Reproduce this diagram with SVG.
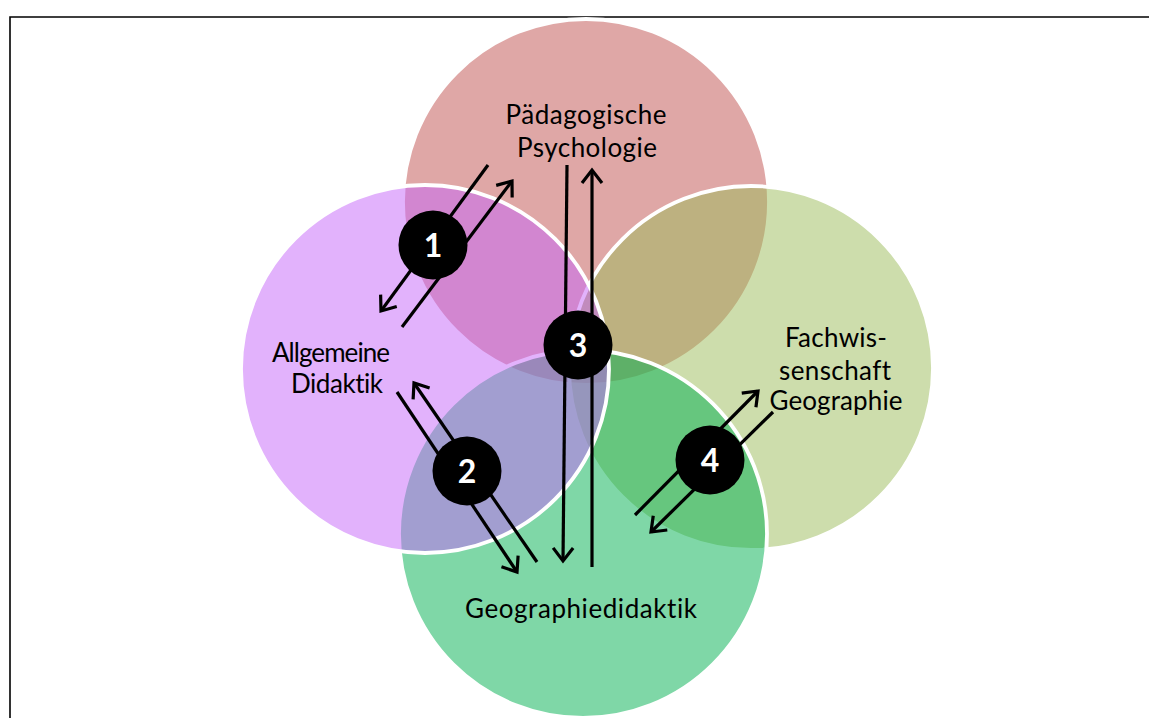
<svg xmlns="http://www.w3.org/2000/svg" width="1149" height="718" viewBox="0 0 1149 718">
  <defs>
    <style>
      .set { stroke: #ffffff; stroke-width: 3.8; fill-opacity: 0.5; }
      .label { font-family: Lato, "Liberation Sans", sans-serif; font-size: 26px; fill: #000000; text-anchor: middle; font-variant-ligatures: none; }
      .link { stroke: #000000; stroke-width: 3.2; fill: none; marker-end: url(#head); }
      .badge circle { fill: #000000; }
      .badge text { font-family: Lato, "Liberation Sans", sans-serif; font-weight: bold; font-size: 32px; fill: #ffffff; text-anchor: middle; }
    </style>
    <marker id="head" markerUnits="userSpaceOnUse" markerWidth="30" markerHeight="30" viewBox="-16 -15 20 30" refX="0" refY="0" orient="auto">
      <path d="M-13,-10 L0,0 L-13,10" fill="none" stroke="#000000" stroke-width="3.2" stroke-linejoin="miter"/>
    </marker>
  </defs>

  <rect width="1149" height="718" fill="#ffffff"/>
  <!-- frame: only the left and top edges fall inside the canvas -->
  <path d="M10,718 V17 H1149" fill="none" stroke="#000000" stroke-width="1.6"/>

  <!-- overlapping sets, back to front -->
  <g id="node-paedagogische-psychologie">
    <circle class="set" cx="586" cy="202" r="183" fill="#C0504D"/>
    <text class="label" x="586" y="124" textLength="161">Pädagogische</text>
    <text class="label" x="587" y="157" textLength="140">Psychologie</text>
  </g>
  <g id="node-fachwissenschaft">
    <circle class="set" cx="751" cy="368" r="182" fill="#9BBB59"/>
    <text class="label" x="836" y="347" textLength="102">Fachwis-</text>
    <text class="label" x="835" y="380" textLength="112">senschaft</text>
    <text class="label" x="836" y="410" textLength="133">Geographie</text>
  </g>
  <g id="node-geographiedidaktik">
    <circle class="set" cx="583" cy="534" r="184" fill="#00B050"/>
    <text class="label" x="581" y="618" textLength="232">Geographiedidaktik</text>
  </g>
  <g id="node-allgemeine-didaktik">
    <circle class="set" cx="425" cy="369" r="184" fill="#C565F9"/>
    <text class="label" x="331" y="362" textLength="118">Allgemeine</text>
    <text class="label" x="337" y="393" textLength="92">Didaktik</text>
  </g>

  <!-- paired arrows between the sets -->
  <g id="connectors">
    <line class="link" x1="488" y1="165" x2="381" y2="311"/>
    <line class="link" x1="402" y1="327" x2="512" y2="181"/>
    <line class="link" x1="567" y1="165" x2="563" y2="561"/>
    <line class="link" x1="592" y1="567" x2="592" y2="170"/>
    <line class="link" x1="537" y1="562" x2="414" y2="383"/>
    <line class="link" x1="397" y1="392" x2="517" y2="572"/>
    <line class="link" x1="635" y1="515" x2="758" y2="391"/>
    <line class="link" x1="773" y1="412" x2="651" y2="532"/>
  </g>

  <!-- numbered badges on the arrow pairs -->
  <g id="badge-1" class="badge">
    <circle cx="433" cy="245" r="34.5"/>
    <text x="433" y="257">1</text>
  </g>
  <g id="badge-2" class="badge">
    <circle cx="467" cy="471" r="34.5"/>
    <text x="467" y="483">2</text>
  </g>
  <g id="badge-3" class="badge">
    <circle cx="578" cy="345" r="34.5"/>
    <text x="578" y="357">3</text>
  </g>
  <g id="badge-4" class="badge">
    <circle cx="710" cy="460" r="34.5"/>
    <text x="710" y="472">4</text>
  </g>
</svg>
